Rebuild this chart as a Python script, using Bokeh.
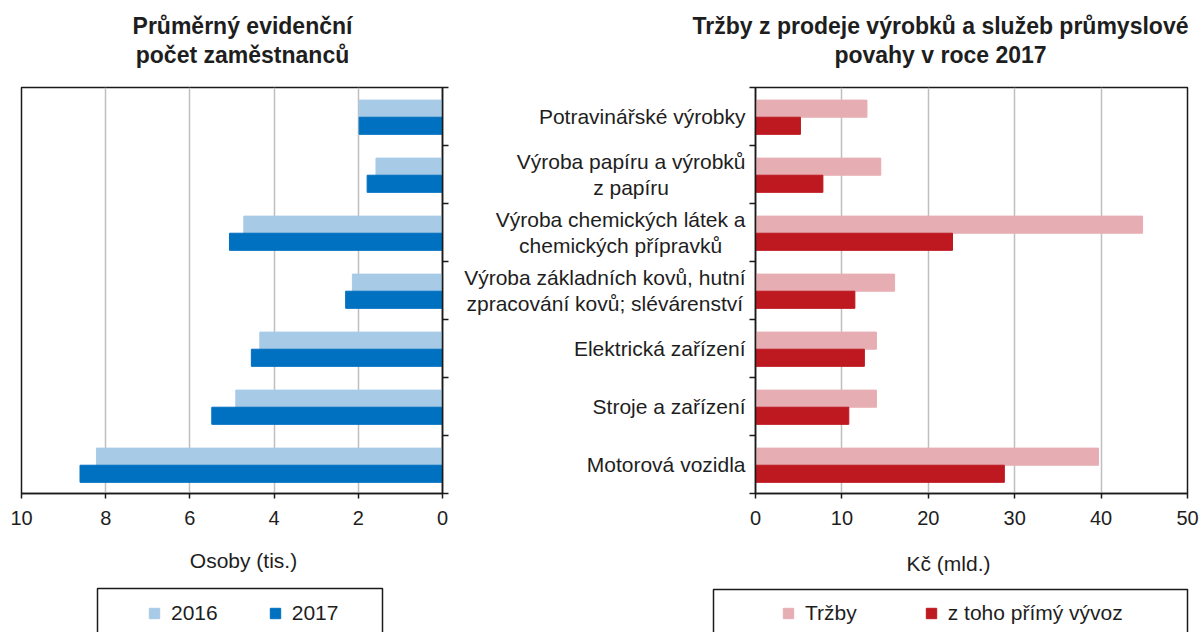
from bokeh.plotting import figure
from bokeh.layouts import row, column
from bokeh.models import Range1d, FixedTicker, Legend, LegendItem
from bokeh.core.properties import value
from bokeh.embed import file_html
from bokeh.resources import INLINE

# ---------------- data ----------------
categories = [
    "Potravinářské výrobky",
    "Výroba papíru a výrobků\nz papíru",
    "Výroba chemických látek a\nchemických přípravků",
    "Výroba základních kovů, hutní\nzpracování kovů; slévárenství",
    "Elektrická zařízení",
    "Stroje a zařízení",
    "Motorová vozidla",
]
emp_2016 = [1.98, 1.58, 4.72, 2.14, 4.34, 4.91, 8.22]
emp_2017 = [1.98, 1.79, 5.06, 2.30, 4.54, 5.48, 8.61]
sales = [12.9, 14.5, 44.8, 16.1, 14.0, 14.0, 39.7]
export = [5.2, 7.8, 22.8, 11.5, 12.6, 10.8, 28.8]
x_ticks_left = [0, 2, 4, 6, 8, 10]
x_ticks_right = [0, 10, 20, 30, 40, 50]
series_left = ["2016", "2017"]
series_right = ["Tržby", "z toho přímý vývoz"]
title_left = "Průměrný evidenční\npočet zaměstnanců"
title_right = "Tržby z prodeje výrobků a služeb průmyslové\npovahy v roce 2017"
xlabel_left = "Osoby (tis.)"
xlabel_right = "Kč (mld.)"

# ---------------- style ----------------
FONT = "Liberation Sans"
TXT = "#1E1E1E"
LINE = "#1A1A1A"
GRID = "#BFBFBF"
C_2016 = "#A7CBE7"
C_2017 = "#0070C0"
C_SALES = "#E6AEB3"
C_EXPORT = "#BE1820"
W = 1201
TOP_H = 80
MID_H = 455
BOT_H = 97
BAR_H = 0.295
OFF_A = 0.365
OFF_B = 0.66

n = len(categories)
idx = list(range(n))
y_a = [i + OFF_A for i in idx]
y_b = [i + OFF_B for i in idx]
y_mid = [i + 0.5 for i in idx]
y_range = Range1d(n, 0)


def blank(p):
    p.outline_line_color = None
    p.background_fill_color = "white"
    p.border_fill_color = "white"
    p.grid.grid_line_color = None


def style(p, xticks):
    p.background_fill_color = "white"
    p.border_fill_color = "white"
    p.outline_line_color = LINE
    p.outline_line_width = 1.5
    p.xaxis.ticker = FixedTicker(ticks=xticks)
    p.xaxis.axis_line_color = LINE
    p.xaxis.axis_line_width = 1.5
    p.xaxis.major_tick_line_color = LINE
    p.xaxis.major_tick_line_width = 1.5
    p.xaxis.major_tick_out = 5
    p.xaxis.major_tick_in = 0
    p.xaxis.minor_tick_line_color = None
    p.xaxis.major_label_text_font = FONT
    p.xaxis.major_label_text_font_size = "20px"
    p.xaxis.major_label_text_color = TXT
    p.xaxis.major_label_standoff = 12
    p.yaxis.ticker = FixedTicker(ticks=list(range(n + 1)))
    p.yaxis.major_label_overrides = {i: "" for i in range(n + 1)}
    p.yaxis.major_label_text_font_size = "1px"
    p.yaxis.major_label_standoff = 0
    p.yaxis.axis_line_color = LINE
    p.yaxis.axis_line_width = 1.5
    p.yaxis.major_tick_line_color = LINE
    p.yaxis.major_tick_line_width = 1.5
    p.yaxis.major_tick_out = 6
    p.yaxis.major_tick_in = 0
    p.yaxis.minor_tick_line_color = None
    p.xgrid.grid_line_color = GRID
    p.xgrid.grid_line_width = 1.5
    p.ygrid.grid_line_color = None


# ---------------- titles (top strip, pixel coordinates) ----------------
pt = figure(width=W, height=TOP_H, x_range=Range1d(0, W), y_range=Range1d(TOP_H, 0),
            x_axis_type=None, y_axis_type=None, output_backend="svg",
            toolbar_location=None, min_border=0)
blank(pt)
pt.text(x=[242, 940], y=[40, 40], text=[title_left, title_right],
        text_align="center", text_baseline="middle", text_font=value(FONT),
        text_font_size="23px", text_font_style="bold", text_line_height=1.15,
        text_color=TXT)

# ---------------- left chart ----------------
pl = figure(width=453, height=MID_H, x_range=Range1d(10, 0), y_range=y_range,
            y_axis_location="right", output_backend="svg", toolbar_location=None,
            min_border_left=21, min_border_right=11, min_border_top=7,
            min_border_bottom=42)
style(pl, x_ticks_left)
pl.hbar(y=y_a, left=0, right=emp_2016, height=BAR_H, color=C_2016)
pl.hbar(y=y_b, left=0, right=emp_2017, height=BAR_H, color=C_2017)

# ---------------- category labels ----------------
pm = figure(width=295, height=MID_H, x_range=Range1d(0, 295), y_range=y_range,
            x_axis_type=None, y_axis_type=None, output_backend="svg",
            toolbar_location=None, min_border_left=0, min_border_right=0,
            min_border_top=7, min_border_bottom=42)
blank(pm)
pm.text(x=[292] * n, y=y_mid, text=categories, text_align="center",
        text_baseline="middle", anchor="center_right", text_font=value(FONT),
        text_font_size="21px", text_line_height=1.15, text_color=TXT)

# ---------------- right chart ----------------
pr = figure(width=453, height=MID_H, x_range=Range1d(0, 50), y_range=y_range,
            y_axis_location="left", output_backend="svg", toolbar_location=None,
            min_border_left=7, min_border_right=14, min_border_top=7,
            min_border_bottom=42)
style(pr, x_ticks_right)
pr.hbar(y=y_a, left=0, right=sales, height=BAR_H, color=C_SALES)
pr.hbar(y=y_b, left=0, right=export, height=BAR_H, color=C_EXPORT)

# ---------------- axis titles and legends (bottom strip) ----------------
pb = figure(width=W, height=BOT_H, x_range=Range1d(0, W), y_range=Range1d(BOT_H, 0),
            x_axis_type=None, y_axis_type=None, output_backend="svg",
            toolbar_location=None, min_border=0)
blank(pb)
pb.text(x=[243, 948], y=[25, 28], text=[xlabel_left, xlabel_right],
        text_align="center", text_baseline="middle", text_font=value(FONT),
        text_font_size="21px", text_color=TXT)
# legend frames
pb.quad(left=[97, 713], right=[382, 1187], top=[53, 54], bottom=[BOT_H + 30] * 2,
        fill_color="white", line_color=LINE, line_width=1.5)
nan = float("nan")
sw = [pb.scatter(x=[nan], y=[nan], marker="square", color=c)
      for c in (C_2016, C_2017, C_SALES, C_EXPORT)]

common = dict(orientation="horizontal", margin=0, padding=0, glyph_width=30,
              glyph_height=26, label_standoff=2, label_text_font=FONT,
              label_text_font_size="21px", label_text_color=TXT,
              border_line_color=None, background_fill_alpha=0)
leg_l = Legend(items=[LegendItem(label=series_left[0], renderers=[sw[0]]),
                      LegendItem(label=series_left[1], renderers=[sw[1]])],
               location=(139, 6), spacing=42, **common)
leg_r = Legend(items=[LegendItem(label=series_right[0], renderers=[sw[2]]),
                      LegendItem(label=series_right[1], renderers=[sw[3]])],
               location=(773, 6), spacing=59, **common)
pb.add_layout(leg_l)
pb.add_layout(leg_r)

layout = column(pt, row(pl, pm, pr), pb)
open("out.html", "w").write(file_html(layout, INLINE))
